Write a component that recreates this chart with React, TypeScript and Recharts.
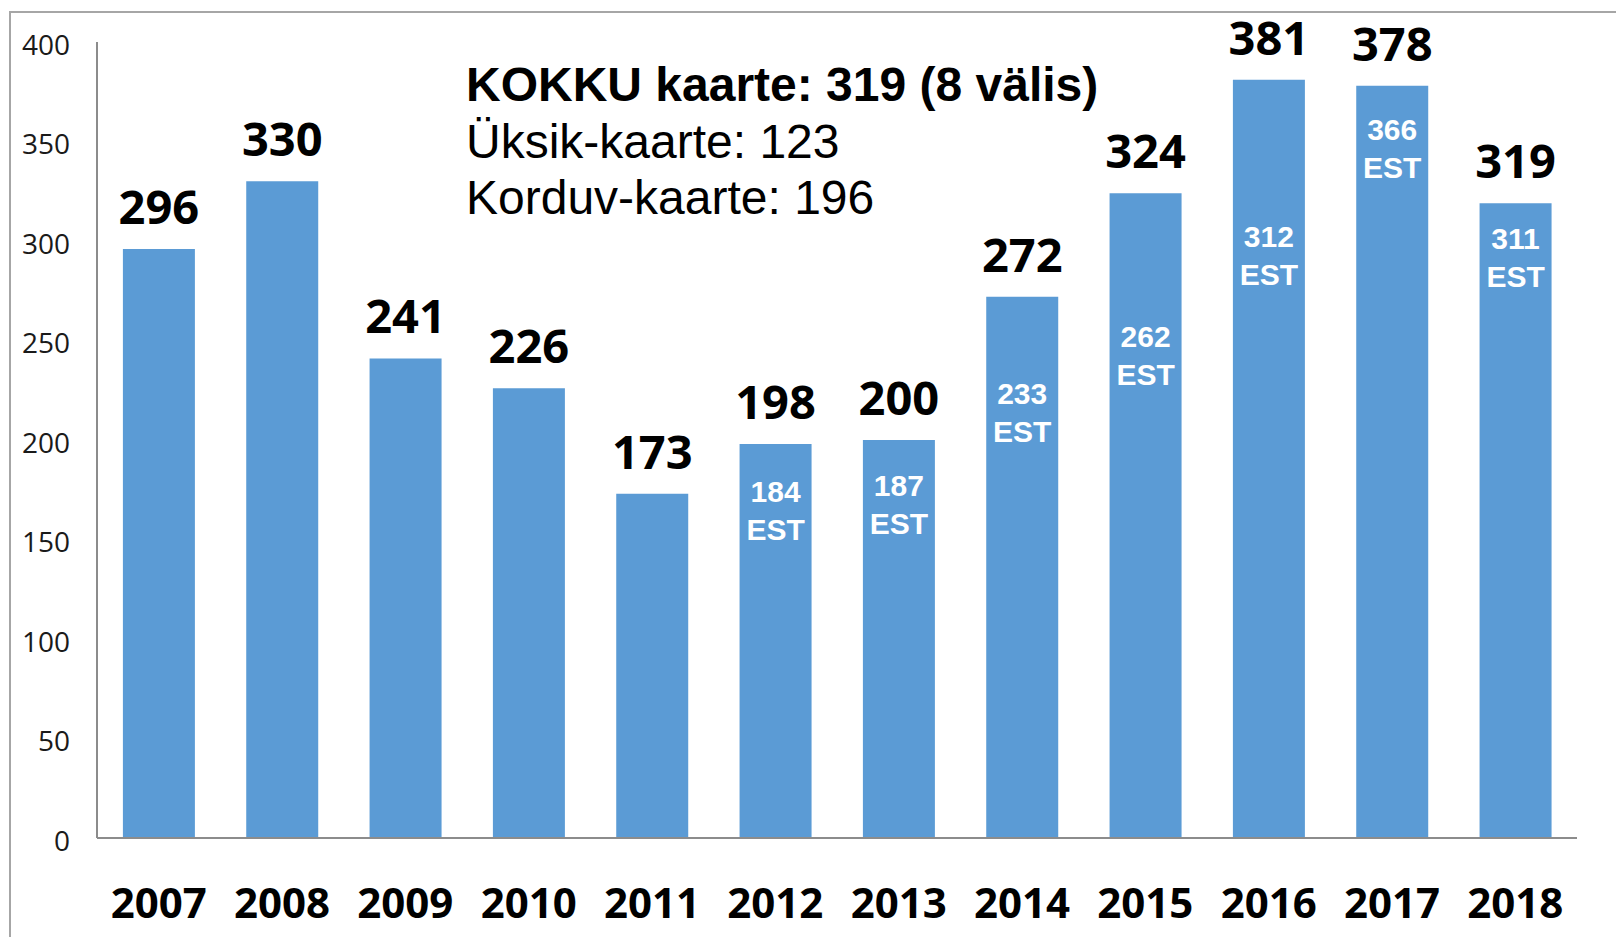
import React from "react";
import { BarChart, Bar, XAxis, YAxis, LabelList } from "recharts";

const years = ["2007", "2008", "2009", "2010", "2011", "2012", "2013", "2014", "2015", "2016", "2017", "2018"];
const totals = [296, 330, 241, 226, 173, 198, 200, 272, 324, 381, 378, 319];
// Eesti kaardid (EST) where shown inside the bar
const estonian: (number | null)[] = [null, null, null, null, null, 184, 187, 233, 262, 312, 366, 311];
const yTicks = [0, 50, 100, 150, 200, 250, 300, 350, 400];
const summaryLines = ["KOKKU kaarte: 319 (8 välis)", "Üksik-kaarte: 123", "Korduv-kaarte: 196"];

const data = years.map((year, i) => ({ year, total: totals[i], est: estonian[i] }));

const BAR_COLOR = "#5B9BD5";
const AXIS_COLOR = "#8c8c8c";

const TopLabel = (props: any) => {
  const { x, y, width, value } = props;
  return (
    <text
      x={x + width / 2}
      y={y - 25}
      textAnchor="middle"
      fontFamily="Open Sans"
      fontWeight={700}
      fontSize={47}
      fill="#000"
    >
      {value}
    </text>
  );
};

const EstLabel = (props: any) => {
  const { x, y, width, height, value, index } = props;
  if (value == null) return null;
  const total = data[index].total;
  const yEst = y + height * (1 - value / total);
  const cx = x + width / 2;
  return (
    <text
      textAnchor="middle"
      fontFamily="Liberation Sans"
      fontWeight={700}
      fontSize={30}
      fill="#fff"
    >
      <tspan x={cx} y={yEst + 30}>{value}</tspan>
      <tspan x={cx} y={yEst + 68}>EST</tspan>
    </text>
  );
};

export default function App() {
  return (
    <div style={{ position: "absolute", left: 0, top: 0, width: 1616, height: 937, background: "#fff" }}>
      <div
        style={{
          position: "absolute",
          left: 9,
          top: 11,
          width: 1620,
          height: 940,
          borderTop: "2px solid #a6a6a6",
          borderLeft: "2px solid #a6a6a6",
        }}
      />
      <BarChart
        width={1616}
        height={937}
        data={data}
        margin={{ top: 42, right: 39, bottom: 0, left: 0 }}
        barCategoryGap="21%"
      >
        <XAxis
          dataKey="year"
          height={99}
          axisLine={{ stroke: AXIS_COLOR, strokeWidth: 2 }}
          tickLine={false}
          tickSize={0}
          tickMargin={50}
          tick={{ fontFamily: "Open Sans", fontWeight: 700, fontSize: 42, fill: "#000" }}
          interval={0}
        />
        <YAxis
          width={97}
          domain={[0, 400]}
          ticks={yTicks}
          axisLine={{ stroke: AXIS_COLOR, strokeWidth: 2 }}
          tickLine={false}
          tickSize={0}
          tickMargin={27}
          tick={{ fontFamily: "Open Sans", fontSize: 28, fill: "#1a1a1a", dy: 3 }}
        />
        <Bar dataKey="total" fill={BAR_COLOR} isAnimationActive={false}>
          <LabelList dataKey="total" content={TopLabel} />
          <LabelList dataKey="est" content={EstLabel} />
        </Bar>
      </BarChart>
      <svg
        width={1616}
        height={937}
        style={{ position: "absolute", left: 0, top: 0, pointerEvents: "none" }}
      >
        {summaryLines.map((line, i) => (
          <text
            key={line}
            x={466}
            y={101 + i * 56.5}
            fontFamily="Liberation Sans"
            fontWeight={i === 0 ? 700 : 400}
            fontSize={48}
            fill="#000"
          >
            {line}
          </text>
        ))}
      </svg>
    </div>
  );
}
